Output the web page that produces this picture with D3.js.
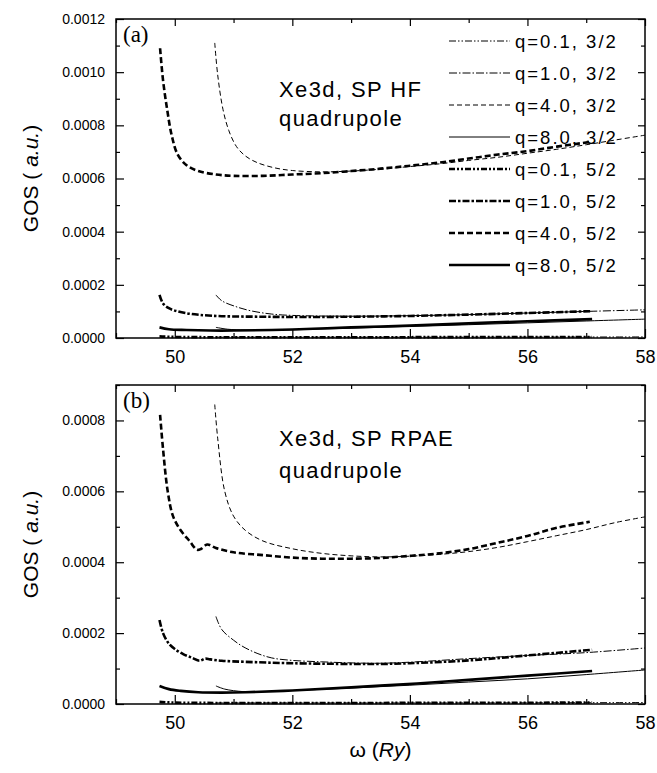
<!DOCTYPE html>
<html>
<head>
<meta charset="utf-8">
<script src="https://cdn.jsdelivr.net/npm/d3@7"></script>
<style>
  body { margin: 0; background: #fff; }
  text { font-family: "Liberation Sans", Arial, Helvetica, sans-serif; fill: #000; }
</style>
</head>
<body>
<script>
// ---- data: [omega (Ry), GOS (a.u.)] ----
var legendLabels = ["q=0.1, 3/2", "q=1.0, 3/2", "q=4.0, 3/2", "q=8.0, 3/2",
                    "q=0.1, 5/2", "q=1.0, 5/2", "q=4.0, 5/2", "q=8.0, 5/2"];
var xTicks = [50, 52, 54, 56, 58];

// panel (a) : SP HF
var hf_q01_32 = [[50.7, 3e-6], [52, 3e-6], [55, 3e-6], [58, 4e-6]];
var hf_q10_32 = [[50.7, 0.000162], [50.8, 0.00014], [51.04, 0.000118], [51.3, 0.000102], [51.65, 0.00009],
                 [52.0, 0.000085], [53.0, 0.000082], [54.0, 0.000084], [55.0, 0.000088], [56.0, 0.000094],
                 [57.0, 0.0001], [58.0, 0.000106]];
var hf_q40_32 = [[50.68, 0.00111], [50.73, 0.00099], [50.82, 0.00086], [50.92, 0.00078], [51.05, 0.00072],
                 [51.2, 0.000685], [51.4, 0.00066], [51.7, 0.00064], [52.0, 0.00063], [52.5, 0.000625],
                 [53.0, 0.000628], [53.5, 0.000635], [54.0, 0.000645], [54.5, 0.000655], [55.0, 0.000668],
                 [55.5, 0.00068], [56.0, 0.000695], [56.5, 0.00071], [57.0, 0.000727], [57.5, 0.000745],
                 [58.0, 0.000763]];
var hf_q80_32 = [[50.7, 0.00004], [50.9, 0.000033], [51.2, 0.00003], [51.6, 0.00003], [52.0, 0.000031],
                 [53.0, 0.000037], [54.0, 0.000043], [55.0, 0.00005], [56.0, 0.000057], [57.0, 0.000064],
                 [58.0, 0.000071]];
var hf_q01_52 = [[49.74, 6e-6], [50.0, 4e-6], [53.0, 3e-6], [57.1, 4e-6]];
var hf_q10_52 = [[49.74, 0.000162], [49.8, 0.00013], [49.9, 0.000112], [50.0, 0.000103], [50.2, 0.000093],
                 [50.42, 0.000087], [50.8, 0.000082], [51.5, 0.00008], [52.0, 0.000079], [53.0, 0.00008],
                 [54.0, 0.000083], [55.0, 0.000088], [56.0, 0.000094], [57.1, 0.000101]];
var hf_q40_52 = [[49.75, 0.00109], [49.8, 0.00097], [49.87, 0.00086], [49.95, 0.00076], [50.05, 0.00069],
                 [50.2, 0.00065], [50.4, 0.000628], [50.7, 0.000615], [51.0, 0.00061], [51.5, 0.00061],
                 [52.0, 0.000615], [52.5, 0.00062], [53.0, 0.000628], [53.5, 0.000637], [54.0, 0.000648],
                 [54.5, 0.00066], [55.0, 0.000675], [55.5, 0.00069], [56.0, 0.000703], [56.5, 0.00072],
                 [57.05, 0.000737]];
var hf_q80_52 = [[49.74, 0.00004], [49.9, 0.000033], [50.2, 0.00003], [50.6, 0.000028], [51.0, 0.000028],
                 [52.0, 0.000032], [53.0, 0.00004], [54.0, 0.000047], [55.0, 0.000055], [56.0, 0.000063],
                 [57.1, 0.000071]];

// panel (b) : SP RPAE
var rpae_q01_32 = [[50.7, 3e-6], [52, 3e-6], [55, 3e-6], [58, 4e-6]];
var rpae_q10_32 = [[50.7, 0.000247], [50.8, 0.00021], [51.0, 0.00018], [51.16, 0.000162], [51.4, 0.000143],
                   [51.65, 0.00013], [52.0, 0.000123], [52.5, 0.000119], [53.0, 0.000116], [53.5, 0.000115],
                   [54.0, 0.000118], [55.0, 0.000128], [56.0, 0.000137], [57.0, 0.000145], [58.0, 0.000158]];
var rpae_q40_32 = [[50.68, 0.000845], [50.73, 0.00075], [50.85, 0.0006], [51.0, 0.00053], [51.2, 0.00049],
                   [51.5, 0.00046], [52.0, 0.000438], [52.5, 0.000425], [53.0, 0.000418], [53.5, 0.000415],
                   [54.0, 0.000417], [54.5, 0.000422], [55.0, 0.00043], [55.5, 0.000442], [56.0, 0.000458],
                   [56.5, 0.000475], [57.0, 0.000492], [57.5, 0.000512], [58.0, 0.000528]];
var rpae_q80_32 = [[50.7, 0.000051], [50.85, 0.000042], [51.16, 0.000035], [51.5, 0.000035], [52.0, 0.000038],
                   [53.0, 0.000045], [54.0, 0.000053], [55.0, 0.000062], [56.0, 0.000071], [57.0, 0.000083],
                   [58.0, 0.000096]];
var rpae_q01_52 = [[49.74, 6e-6], [50.0, 4e-6], [53.0, 3e-6], [57.1, 4e-6]];
var rpae_q10_52 = [[49.74, 0.000237], [49.8, 0.0002], [49.9, 0.00017], [50.0, 0.000155], [50.15, 0.00014],
                   [50.3, 0.00013], [50.42, 0.000122], [50.52, 0.000128], [50.6, 0.000126], [50.8, 0.000122],
                   [51.2, 0.000119], [52.0, 0.000115], [53.0, 0.000113], [53.5, 0.000113], [54.0, 0.000115],
                   [55.0, 0.000123], [56.0, 0.000137], [57.1, 0.000153]];
var rpae_q40_52 = [[49.75, 0.000816], [49.8, 0.00072], [49.88, 0.0006], [49.97, 0.00053], [50.1, 0.00049],
                   [50.25, 0.00046], [50.38, 0.000435], [50.45, 0.000438], [50.55, 0.00045], [50.7, 0.00044],
                   [51.0, 0.000428], [51.5, 0.00042], [52.0, 0.000413], [52.5, 0.00041], [53.0, 0.00041],
                   [53.5, 0.000412], [54.0, 0.000418], [54.5, 0.000425], [55.0, 0.000437], [55.5, 0.000455],
                   [56.0, 0.000474], [56.5, 0.000497], [57.06, 0.000514]];
var rpae_q80_52 = [[49.74, 0.000051], [49.9, 0.000042], [50.1, 0.000037], [50.4, 0.000033], [50.8, 0.000032],
                   [51.2, 0.000033], [52.0, 0.000038], [53.0, 0.000047], [54.12, 0.000058], [55.0, 0.000068],
                   [56.0, 0.00008], [57.1, 0.000093]];

// line styles in legend order
var styles = [
  {w: 1,   dash: "7,2,1.5,2,1.5,2"},
  {w: 1,   dash: "8,2,1.5,2"},
  {w: 1,   dash: "5,3"},
  {w: 1,   dash: null},
  {w: 2.6, dash: "6,2,2,2,2,2"},
  {w: 2.6, dash: "7,2,2.5,2"},
  {w: 2.6, dash: "6,3"},
  {w: 2.6, dash: null}
];

var width = 657, height = 773;
var left = 116, right = 645;

var svg = d3.select("body").append("svg")
    .attr("width", width)
    .attr("height", height);

svg.append("rect").attr("width", width).attr("height", height).attr("fill", "#fff");

var x = d3.scaleLinear().domain([49, 58]).range([left, right]);

function drawPanel(cfg) {
  var y = d3.scaleLinear().domain([0, cfg.ymax]).range([cfg.bottom, cfg.top]);
  var g = svg.append("g");

  var line = d3.line()
      .x(function(d) { return x(d[0]); })
      .y(function(d) { return y(d[1]); })
      .curve(d3.curveCatmullRom.alpha(0.5));

  cfg.series.forEach(function(s, i) {
    g.append("path")
      .attr("d", line(s))
      .attr("fill", "none")
      .attr("stroke", "#000")
      .attr("stroke-width", styles[i].w)
      .attr("stroke-dasharray", styles[i].dash);
  });

  var yMajor = d3.range(0, cfg.ymax + 1e-9, 0.0002);
  var yMinor = d3.range(0.0001, cfg.ymax + 1e-9, 0.0002);
  var xMinor = [49, 51, 53, 55, 57];

  // bottom axis with labels
  g.append("g")
    .attr("transform", "translate(0," + cfg.bottom + ")")
    .call(d3.axisBottom(x).tickValues(xTicks).tickSize(-9).tickPadding(12).tickFormat(d3.format("d")))
    .call(function(a) {
      a.select(".domain").remove();
      a.selectAll("text").style("font-size", "18px").attr("font-family", null);
    });
  g.append("g")
    .attr("transform", "translate(0," + cfg.bottom + ")")
    .call(d3.axisBottom(x).tickValues(xMinor).tickSize(-5).tickFormat(""))
    .call(function(a) { a.select(".domain").remove(); });

  // top mirror
  g.append("g")
    .attr("transform", "translate(0," + cfg.top + ")")
    .call(d3.axisTop(x).tickValues(xTicks).tickSize(-7).tickFormat(""))
    .call(function(a) { a.select(".domain").remove(); });
  g.append("g")
    .attr("transform", "translate(0," + cfg.top + ")")
    .call(d3.axisTop(x).tickValues(xMinor).tickSize(-4).tickFormat(""))
    .call(function(a) { a.select(".domain").remove(); });

  // left axis with labels
  g.append("g")
    .attr("transform", "translate(" + left + ",0)")
    .call(d3.axisLeft(y).tickValues(yMajor).tickSize(-8).tickPadding(11).tickFormat(d3.format(".4f")))
    .call(function(a) {
      a.select(".domain").remove();
      a.selectAll("text").style("font-size", "14px").attr("font-family", null);
    });
  g.append("g")
    .attr("transform", "translate(" + left + ",0)")
    .call(d3.axisLeft(y).tickValues(yMinor).tickSize(-4).tickFormat(""))
    .call(function(a) { a.select(".domain").remove(); });

  // right mirror
  g.append("g")
    .attr("transform", "translate(" + right + ",0)")
    .call(d3.axisRight(y).tickValues(yMajor).tickSize(-7).tickFormat(""))
    .call(function(a) { a.select(".domain").remove(); });
  g.append("g")
    .attr("transform", "translate(" + right + ",0)")
    .call(d3.axisRight(y).tickValues(yMinor).tickSize(-4).tickFormat(""))
    .call(function(a) { a.select(".domain").remove(); });

  g.selectAll(".tick line").attr("stroke-width", 1.2);

  // frame
  g.append("rect")
    .attr("x", left).attr("y", cfg.top)
    .attr("width", right - left).attr("height", cfg.bottom - cfg.top)
    .attr("fill", "none").attr("stroke", "#000").attr("stroke-width", 1.5);

  // panel tag
  g.append("text")
    .attr("x", left + 7).attr("y", cfg.top + 23)
    .style("font-family", "'Liberation Serif', 'Times New Roman', serif")
    .style("font-size", "23px")
    .text(cfg.tag);

  // annotation
  cfg.note.forEach(function(t, i) {
    g.append("text")
      .attr("x", 279).attr("y", cfg.noteY[i])
      .style("font-size", "22px")
      .style("letter-spacing", "1.4px")
      .text(t);
  });

  // y title
  var yt = g.append("text")
    .attr("transform", "translate(38," + ((cfg.top + cfg.bottom) / 2) + ") rotate(-90)")
    .attr("text-anchor", "middle")
    .style("font-size", "21px");
  yt.append("tspan").text("GOS ( ");
  yt.append("tspan").style("font-style", "italic").text("a.u.");
  yt.append("tspan").text(")");

  return y;
}

drawPanel({
  top: 19, bottom: 338, ymax: 0.0012, tag: "(a)",
  note: ["Xe3d, SP HF", "quadrupole"], noteY: [97, 126],
  series: [hf_q01_32, hf_q10_32, hf_q40_32, hf_q80_32, hf_q01_52, hf_q10_52, hf_q40_52, hf_q80_52]
});

drawPanel({
  top: 385, bottom: 704, ymax: 0.0009, tag: "(b)",
  note: ["Xe3d, SP RPAE", "quadrupole"], noteY: [446, 478],
  series: [rpae_q01_32, rpae_q10_32, rpae_q40_32, rpae_q80_32, rpae_q01_52, rpae_q10_52, rpae_q40_52, rpae_q80_52]
});

// legend, panel (a)
var legend = svg.append("g").attr("transform", "translate(449,41)");
legendLabels.forEach(function(lbl, i) {
  var row = legend.append("g").attr("transform", "translate(0," + (i * 32) + ")");
  row.append("line")
    .attr("x1", 0).attr("x2", 61).attr("y1", 0).attr("y2", 0)
    .attr("stroke", "#000")
    .attr("stroke-width", styles[i].w)
    .attr("stroke-dasharray", styles[i].dash);
  row.append("text")
    .attr("x", 66).attr("y", 6.5)
    .style("font-size", "18.5px")
    .style("letter-spacing", "2px")
    .text(lbl);
});

// x title
var xt = svg.append("text")
  .attr("x", (left + right) / 2).attr("y", 757)
  .attr("text-anchor", "middle")
  .style("font-size", "21px");
xt.append("tspan").text("\u03c9 (");
xt.append("tspan").style("font-style", "italic").text("Ry");
xt.append("tspan").text(")");
</script>
</body>
</html>
